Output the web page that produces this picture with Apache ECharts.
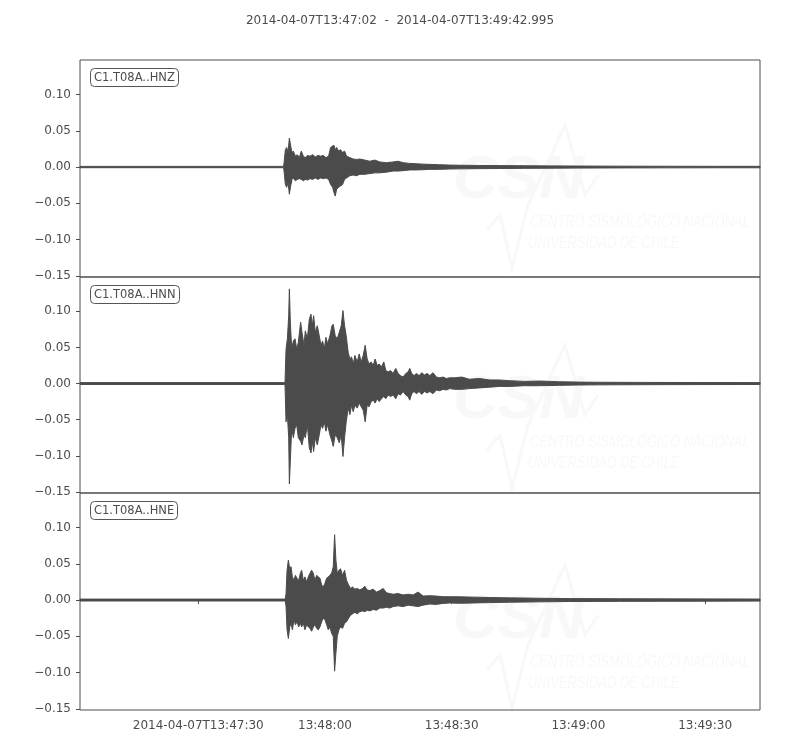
<!DOCTYPE html>
<html>
<head>
<meta charset="utf-8">
<script src="https://cdn.jsdelivr.net/npm/echarts@6/dist/echarts.min.js"></script>
<style>html,body{margin:0;padding:0;background:#fff}#chart{width:800px;height:750px}</style>
</head>
<body>
<div id="chart"></div>
<script>
// ---- text ----
const chartTitle = '2014-04-07T13:47:02  -  2014-04-07T13:49:42.995';
const traceNames = ['C1.T08A..HNZ', 'C1.T08A..HNN', 'C1.T08A..HNE'];
// time axis: seconds after 2014-04-07T13:47:02
const xMin = 0, xMax = 160.995;
const xTickValues = [28, 58, 88, 118, 148];
const xTickLabels = ['2014-04-07T13:47:30', '13:48:00', '13:48:30', '13:49:00', '13:49:30'];
const yTickValues = [-0.15, -0.10, -0.05, 0.00, 0.05, 0.10];
const yTickLabels = ['\u22120.15', '\u22120.10', '\u22120.05', '0.00', '0.05', '0.10'];
const yMin = -0.1515, yMax = 0.1475;

// ---- HNZ envelope ----
const hnzTime = [0, 48.2, 48.31, 48.62, 48.94, 49.25, 49.57, 49.88, 50.20, 50.51, 50.99, 51.46, 51.93, 52.40, 52.87, 53.35, 53.82, 54.45, 55.08, 55.71, 56.34, 56.97, 57.60, 58.23, 58.86, 59.33, 59.80, 60.12, 60.43, 60.75, 61.22, 61.69, 62.17, 62.64, 63.11, 63.90, 64.69, 65.47, 66.26, 67.44, 68.62, 69.80, 70.98, 72.56, 74.13, 75.31, 76.50, 78.07, 79.65, 81.22, 82.80, 85.16, 87.52, 89.9, 94.6, 99.3, 105.0, 111.1, 118.0, 127.7, 140.0, 150.0, 161.0];
const hnzUpper = [0.0009, 0.0009, 0.006, 0.024, 0.027, 0.020, 0.040, 0.029, 0.020, 0.022, 0.015, 0.017, 0.013, 0.022, 0.015, 0.013, 0.016, 0.015, 0.017, 0.014, 0.016, 0.015, 0.016, 0.013, 0.015, 0.027, 0.029, 0.030, 0.024, 0.027, 0.022, 0.024, 0.020, 0.022, 0.015, 0.013, 0.011, 0.0105, 0.011, 0.0096, 0.008, 0.0096, 0.007, 0.006, 0.007, 0.008, 0.006, 0.005, 0.0046, 0.004, 0.0037, 0.0032, 0.0027, 0.0025, 0.0022, 0.002, 0.0018, 0.0016, 0.0014, 0.0012, 0.0011, 0.001, 0.001];
const hnzLower = [-0.0009, -0.0009, -0.0055, -0.024, -0.028, -0.021, -0.0375, -0.026, -0.017, -0.015, -0.019, -0.017, -0.016, -0.017, -0.019, -0.017, -0.018, -0.016, -0.017, -0.015, -0.017, -0.015, -0.016, -0.015, -0.017, -0.024, -0.028, -0.035, -0.040, -0.031, -0.028, -0.026, -0.024, -0.017, -0.015, -0.012, -0.011, -0.012, -0.010, -0.010, -0.009, -0.008, -0.008, -0.007, -0.0055, -0.0055, -0.005, -0.004, -0.004, -0.0037, -0.0032, -0.0032, -0.0027, -0.0025, -0.0022, -0.002, -0.0018, -0.0016, -0.0014, -0.0012, -0.0011, -0.001, -0.001];

// ---- HNN envelope ----
const hnnTime = [0, 48.4, 48.54, 48.78, 49.10, 49.41, 49.57, 49.80, 50.12, 50.51, 50.91, 51.30, 51.69, 52.24, 52.56, 53.03, 53.35, 53.82, 54.29, 54.69, 55.00, 55.31, 55.71, 56.18, 56.65, 57.05, 57.44, 57.84, 58.23, 58.62, 59.17, 59.65, 59.96, 60.43, 60.91, 61.38, 61.85, 62.25, 62.64, 63.03, 63.50, 63.90, 64.29, 64.69, 65.08, 65.63, 66.10, 66.58, 67.05, 67.52, 67.99, 68.46, 68.94, 69.41, 69.88, 70.35, 70.83, 71.38, 71.93, 72.40, 72.95, 73.50, 74.13, 74.76, 75.31, 75.87, 76.50, 77.13, 77.68, 78.07, 78.54, 79.09, 79.65, 80.28, 80.91, 81.54, 82.17, 82.80, 83.58, 84.37, 85.16, 85.95, 86.73, 87.52, 88.7, 90.4, 92.2, 94.6, 97.0, 99.3, 101.7, 105.2, 108.8, 113.5, 118.2, 122.9, 132.4, 146.6, 161.0];
const hnnUpper = [0.0013, 0.0013, 0.002, 0.048, 0.062, 0.094, 0.131, 0.085, 0.048, 0.059, 0.062, 0.048, 0.057, 0.085, 0.071, 0.053, 0.073, 0.062, 0.089, 0.096, 0.080, 0.094, 0.071, 0.080, 0.066, 0.053, 0.059, 0.048, 0.064, 0.055, 0.066, 0.080, 0.082, 0.066, 0.062, 0.071, 0.080, 0.101, 0.080, 0.066, 0.043, 0.034, 0.037, 0.027, 0.039, 0.030, 0.041, 0.030, 0.039, 0.053, 0.034, 0.027, 0.030, 0.025, 0.034, 0.025, 0.027, 0.023, 0.030, 0.018, 0.016, 0.018, 0.014, 0.021, 0.014, 0.011, 0.009, 0.014, 0.016, 0.021, 0.014, 0.011, 0.014, 0.011, 0.015, 0.012, 0.014, 0.011, 0.015, 0.009, 0.008, 0.009, 0.007, 0.008, 0.008, 0.009, 0.006, 0.007, 0.005, 0.005, 0.004, 0.003, 0.0035, 0.0025, 0.002, 0.0018, 0.0016, 0.0014, 0.0013];
const hnnLower = [-0.0013, -0.0013, -0.002, -0.053, -0.043, -0.075, -0.139, -0.107, -0.062, -0.075, -0.062, -0.057, -0.075, -0.080, -0.085, -0.071, -0.075, -0.057, -0.089, -0.096, -0.080, -0.094, -0.075, -0.085, -0.071, -0.057, -0.062, -0.053, -0.066, -0.057, -0.071, -0.080, -0.087, -0.071, -0.075, -0.082, -0.071, -0.101, -0.075, -0.053, -0.034, -0.043, -0.030, -0.039, -0.030, -0.034, -0.027, -0.032, -0.037, -0.053, -0.030, -0.032, -0.025, -0.023, -0.027, -0.021, -0.025, -0.021, -0.018, -0.021, -0.016, -0.018, -0.016, -0.021, -0.014, -0.016, -0.011, -0.016, -0.018, -0.023, -0.014, -0.011, -0.014, -0.011, -0.015, -0.011, -0.013, -0.011, -0.014, -0.009, -0.010, -0.008, -0.009, -0.007, -0.008, -0.008, -0.007, -0.006, -0.005, -0.004, -0.004, -0.003, -0.003, -0.0025, -0.002, -0.0018, -0.0016, -0.0014, -0.0013];

// ---- HNE envelope ----
const hneTime = [0, 48.6, 48.78, 49.02, 49.33, 49.65, 49.96, 50.28, 50.67, 50.99, 51.38, 51.77, 52.17, 52.48, 52.87, 53.27, 53.66, 54.06, 54.45, 54.84, 55.24, 55.63, 56.02, 56.42, 56.81, 57.21, 57.60, 57.99, 58.39, 58.78, 59.17, 59.57, 59.96, 60.28, 60.59, 60.91, 61.30, 61.69, 62.17, 62.64, 63.11, 63.58, 64.06, 64.53, 65.08, 65.63, 66.26, 66.89, 67.44, 67.99, 68.62, 69.41, 70.20, 70.98, 71.77, 72.56, 73.35, 74.14, 75.32, 76.50, 77.68, 78.86, 80.04, 81.22, 82.80, 84.37, 85.94, 87.52, 89.9, 93.4, 97.0, 101.7, 108.8, 115.9, 127.7, 146.6, 161.0];
const hneUpper = [0.0013, 0.0013, 0.009, 0.041, 0.055, 0.043, 0.046, 0.032, 0.027, 0.034, 0.030, 0.027, 0.037, 0.041, 0.027, 0.032, 0.025, 0.032, 0.037, 0.041, 0.037, 0.027, 0.034, 0.032, 0.030, 0.021, 0.018, 0.023, 0.030, 0.032, 0.034, 0.037, 0.046, 0.090, 0.055, 0.037, 0.041, 0.043, 0.034, 0.041, 0.027, 0.021, 0.016, 0.018, 0.015, 0.016, 0.014, 0.016, 0.019, 0.014, 0.013, 0.015, 0.011, 0.013, 0.016, 0.010, 0.009, 0.008, 0.009, 0.007, 0.008, 0.007, 0.011, 0.0055, 0.006, 0.0055, 0.0046, 0.0046, 0.0045, 0.004, 0.0035, 0.003, 0.0025, 0.002, 0.0018, 0.0016, 0.0014];
const hneLower = [-0.0013, -0.0013, -0.009, -0.041, -0.053, -0.037, -0.032, -0.041, -0.027, -0.034, -0.030, -0.037, -0.032, -0.037, -0.032, -0.041, -0.034, -0.037, -0.039, -0.043, -0.037, -0.034, -0.039, -0.041, -0.037, -0.030, -0.025, -0.027, -0.034, -0.041, -0.037, -0.046, -0.050, -0.098, -0.073, -0.050, -0.041, -0.037, -0.039, -0.032, -0.030, -0.025, -0.021, -0.019, -0.017, -0.019, -0.016, -0.015, -0.016, -0.014, -0.015, -0.013, -0.014, -0.011, -0.011, -0.010, -0.011, -0.009, -0.008, -0.009, -0.007, -0.008, -0.009, -0.007, -0.0055, -0.006, -0.0046, -0.004, -0.0045, -0.004, -0.0035, -0.003, -0.0025, -0.002, -0.0018, -0.0016, -0.0014];

// ---- build option ----
const traceColor = '#4b4b4b';
const textColor = '#4d4d4d';
const fontFamily = '"DejaVu Sans", sans-serif';
const gridTops = [60, 277, 493];
const gridHeights = [217, 216, 217];
const traces = [
  { t: hnzTime, up: hnzUpper, lo: hnzLower },
  { t: hnnTime, up: hnnUpper, lo: hnnLower },
  { t: hneTime, up: hneUpper, lo: hneLower }
];

const grids = [], xAxes = [], yAxes = [], series = [], titles = [], graphics = [];
titles.push({
  text: chartTitle, left: 'center', top: 15, padding: 0,
  textStyle: { fontSize: 12, fontWeight: 'normal', color: textColor, fontFamily: fontFamily }
});
traces.forEach((tr, i) => {
  grids.push({ left: 80, width: 680, top: gridTops[i], height: gridHeights[i], show: true, borderColor: '#4d4d4d', borderWidth: 1, backgroundColor: 'transparent', z: 3 });
  const last = i === traces.length - 1;
  xAxes.push({
    type: 'value', gridIndex: i, min: xMin, max: xMax,
    axisLine: { show: false }, splitLine: { show: false },
    axisTick: { show: last, length: 4, inside: false, customValues: xTickValues, lineStyle: { color: '#4d4d4d' } },
    axisLabel: { show: last, customValues: xTickValues, margin: 10, fontSize: 12, color: textColor, fontFamily: fontFamily,
      formatter: v => { const k = xTickValues.findIndex(x => Math.abs(x - v) < 1e-6); return k >= 0 ? xTickLabels[k] : ''; } }
  });
  yAxes.push({
    type: 'value', gridIndex: i, min: yMin, max: yMax,
    axisLine: { show: false }, splitLine: { show: false },
    axisTick: { show: true, length: 4, inside: false, customValues: yTickValues, lineStyle: { color: '#4d4d4d' } },
    axisLabel: { show: true, customValues: yTickValues, margin: 9, fontSize: 12, color: textColor, fontFamily: fontFamily,
      formatter: v => { const k = yTickValues.findIndex(x => Math.abs(x - v) < 1e-6); return k >= 0 ? yTickLabels[k] : ''; } }
  });
  // waveform envelope band, drawn as one polygon through the axis scales
  series.push({
    type: 'custom', xAxisIndex: i, yAxisIndex: i, coordinateSystem: 'cartesian2d',
    data: tr.t.map((x, k) => [x, tr.lo[k], tr.up[k]]),
    encode: { x: 0, y: [1, 2] },
    animation: false, silent: true, z: 5,
    renderItem: function (params, api) {
      if (params.dataIndexInside !== 0) return null;
      const n = tr.t.length;
      const pts = [];
      for (let k = 0; k < n; k++) pts.push(api.coord([tr.t[k], tr.up[k]]));
      for (let k = n - 1; k >= 0; k--) pts.push(api.coord([tr.t[k], tr.lo[k]]));
      return {
        type: 'polygon',
        shape: { points: pts },
        style: { fill: traceColor, stroke: traceColor, lineWidth: 1, lineJoin: 'miter' }
      };
    }
  });
  titles.push({
    text: traceNames[i], left: 90, top: gridTops[i] + 8,
    padding: [4, 4, 3, 4], borderColor: '#555', borderWidth: 1, borderRadius: 4, backgroundColor: '#fff',
    textStyle: { fontSize: 11.5, fontWeight: 'normal', color: textColor, fontFamily: fontFamily }
  });
  // very faint watermark
  const off = [0, 220, 440][i];
  const wm = '#f8f8f8';
  graphics.push({ type: 'text', left: 453, top: 150 + off, z: 1, silent: true,
    style: { text: 'CSN', fill: wm, font: 'italic bold 62px "Liberation Sans", sans-serif' } });
  graphics.push({ type: 'polyline', z: 1, silent: true,
    shape: { points: [[487, 230 + off], [500, 215 + off], [512, 268 + off], [528, 205 + off], [565, 125 + off], [585, 195 + off], [598, 175 + off]] },
    style: { stroke: wm, lineWidth: 3, fill: null } });
  graphics.push({ type: 'text', x: 530, y: 214 + off, scaleX: 0.76, z: 1, silent: true,
    style: { text: 'CENTRO SISMOLÓGICO NACIONAL', fill: wm, font: 'italic 17px "Liberation Sans", sans-serif' } });
  graphics.push({ type: 'text', x: 528, y: 235 + off, scaleX: 0.76, z: 1, silent: true,
    style: { text: 'UNIVERSIDAD DE CHILE', fill: wm, font: 'italic 17px "Liberation Sans", sans-serif' } });
});

const chart = echarts.init(document.getElementById('chart'), null, { renderer: 'canvas' });
chart.setOption({
  backgroundColor: '#fff',
  animation: false,
  title: titles,
  grid: grids,
  xAxis: xAxes,
  yAxis: yAxes,
  series: series,
  graphic: graphics
});
</script>
</body>
</html>
